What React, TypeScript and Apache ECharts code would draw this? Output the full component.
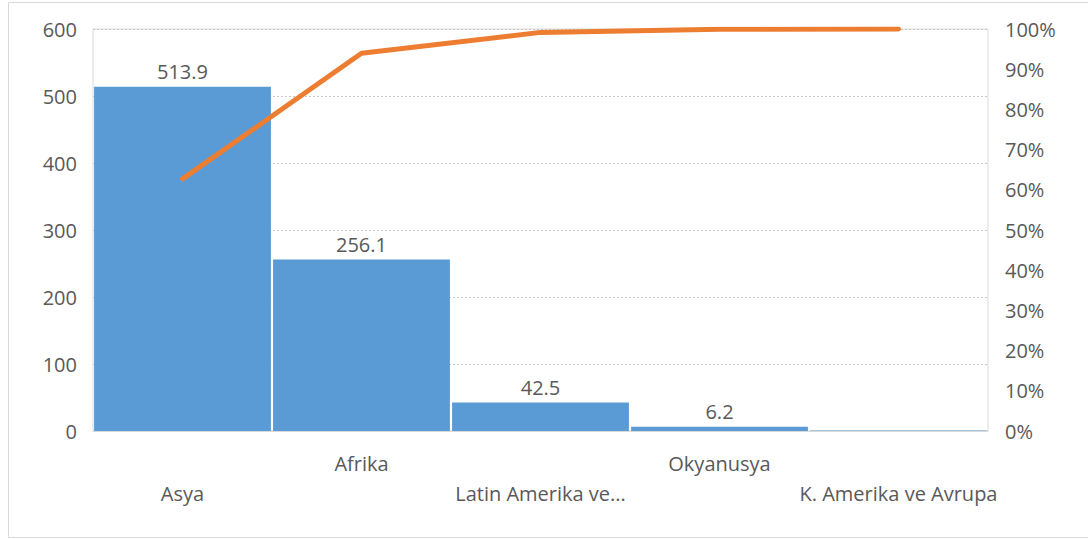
import React, { useEffect, useRef } from "react";
import * as echarts from "echarts";

// Regions and their values
const categories = [
  "Asya",
  "Afrika",
  "Latin Amerika ve Karayipler",
  "Okyanusya",
  "K. Amerika ve Avrupa",
];
const values = [513.9, 256.1, 42.5, 6.2, 0.7];
const showValueLabel = [true, true, true, true, false];

const leftTicks = { min: 0, max: 600, interval: 100 };
const rightTicks = { min: 0, max: 1, interval: 0.1 };

const TEXT = "#595959";
const FONT = "'Open Sans', 'Noto Sans', sans-serif";
const FS = 20;

function shortName(name: string): string {
  return name.length > 20 ? name.slice(0, 16) + "..." : name;
}

export default function App() {
  const ref = useRef<HTMLDivElement>(null);

  useEffect(() => {
    if (!ref.current) return;
    const chart = echarts.init(ref.current, undefined, { renderer: "svg" });

    const total = values.reduce((a, b) => a + b, 0);
    let run = 0;
    const cumulative = values.map((v) => {
      run += v;
      return run / total;
    });

    chart.setOption({
      animation: false,
      backgroundColor: "#ffffff",
      textStyle: { fontFamily: FONT },
      grid: {
        left: 93,
        right: 100,
        top: 29,
        bottom: 108,
        show: true,
        borderColor: "#d9d9d9",
        borderWidth: 1,
      },
      graphic: [
        {
          type: "rect",
          shape: { x: 8.5, y: 2.5, width: 1090, height: 535 },
          style: { fill: "none", stroke: "#d9d9d9", lineWidth: 1 },
          silent: true,
        },
      ],
      xAxis: {
        type: "category",
        data: categories,
        axisTick: { show: false },
        axisLine: { lineStyle: { color: "#d9d9d9" } },
        axisLabel: {
          interval: 0,
          color: TEXT,
          fontSize: FS,
          fontFamily: FONT,
          margin: 17,
          lineHeight: 30,
          formatter: (v: string, i: number) =>
            i % 2 === 0 ? "\n" + shortName(v) : shortName(v),
        },
      },
      yAxis: [
        {
          type: "value",
          ...leftTicks,
          axisLine: { show: false },
          axisTick: { show: false },
          axisLabel: { color: TEXT, fontSize: FS, margin: 16, fontFamily: FONT },
          splitLine: { lineStyle: { color: "#c8c8c8", type: [2, 2], width: 1 } },
        },
        {
          type: "value",
          ...rightTicks,
          position: "right",
          axisLine: { show: false },
          axisTick: { show: false },
          splitLine: { show: false },
          axisLabel: {
            color: TEXT,
            fontSize: FS,
            margin: 17,
            fontFamily: FONT,
            formatter: (v: number) => Math.round(v * 100) + "%",
          },
        },
      ],
      series: [
        {
          type: "bar",
          yAxisIndex: 0,
          barCategoryGap: "1.2%",
          itemStyle: { color: "#5b9bd5" },
          data: values.map((v, i) => ({
            value: v,
            label: {
              show: showValueLabel[i],
              position: "top",
              distance: 5,
              color: TEXT,
              fontSize: FS,
              fontFamily: FONT,
              formatter: () => v.toFixed(1),
            },
          })),
        },
        {
          type: "line",
          yAxisIndex: 1,
          data: cumulative,
          showSymbol: false,
          symbol: "none",
          lineStyle: { color: "#ed7d31", width: 5, cap: "round" },
          itemStyle: { color: "#ed7d31" },
        },
      ],
    });

    return () => chart.dispose();
  }, []);

  return (
    <div
      ref={ref}
      style={{ position: "fixed", left: 0, top: 0, width: 1088, height: 539 }}
    />
  );
}
